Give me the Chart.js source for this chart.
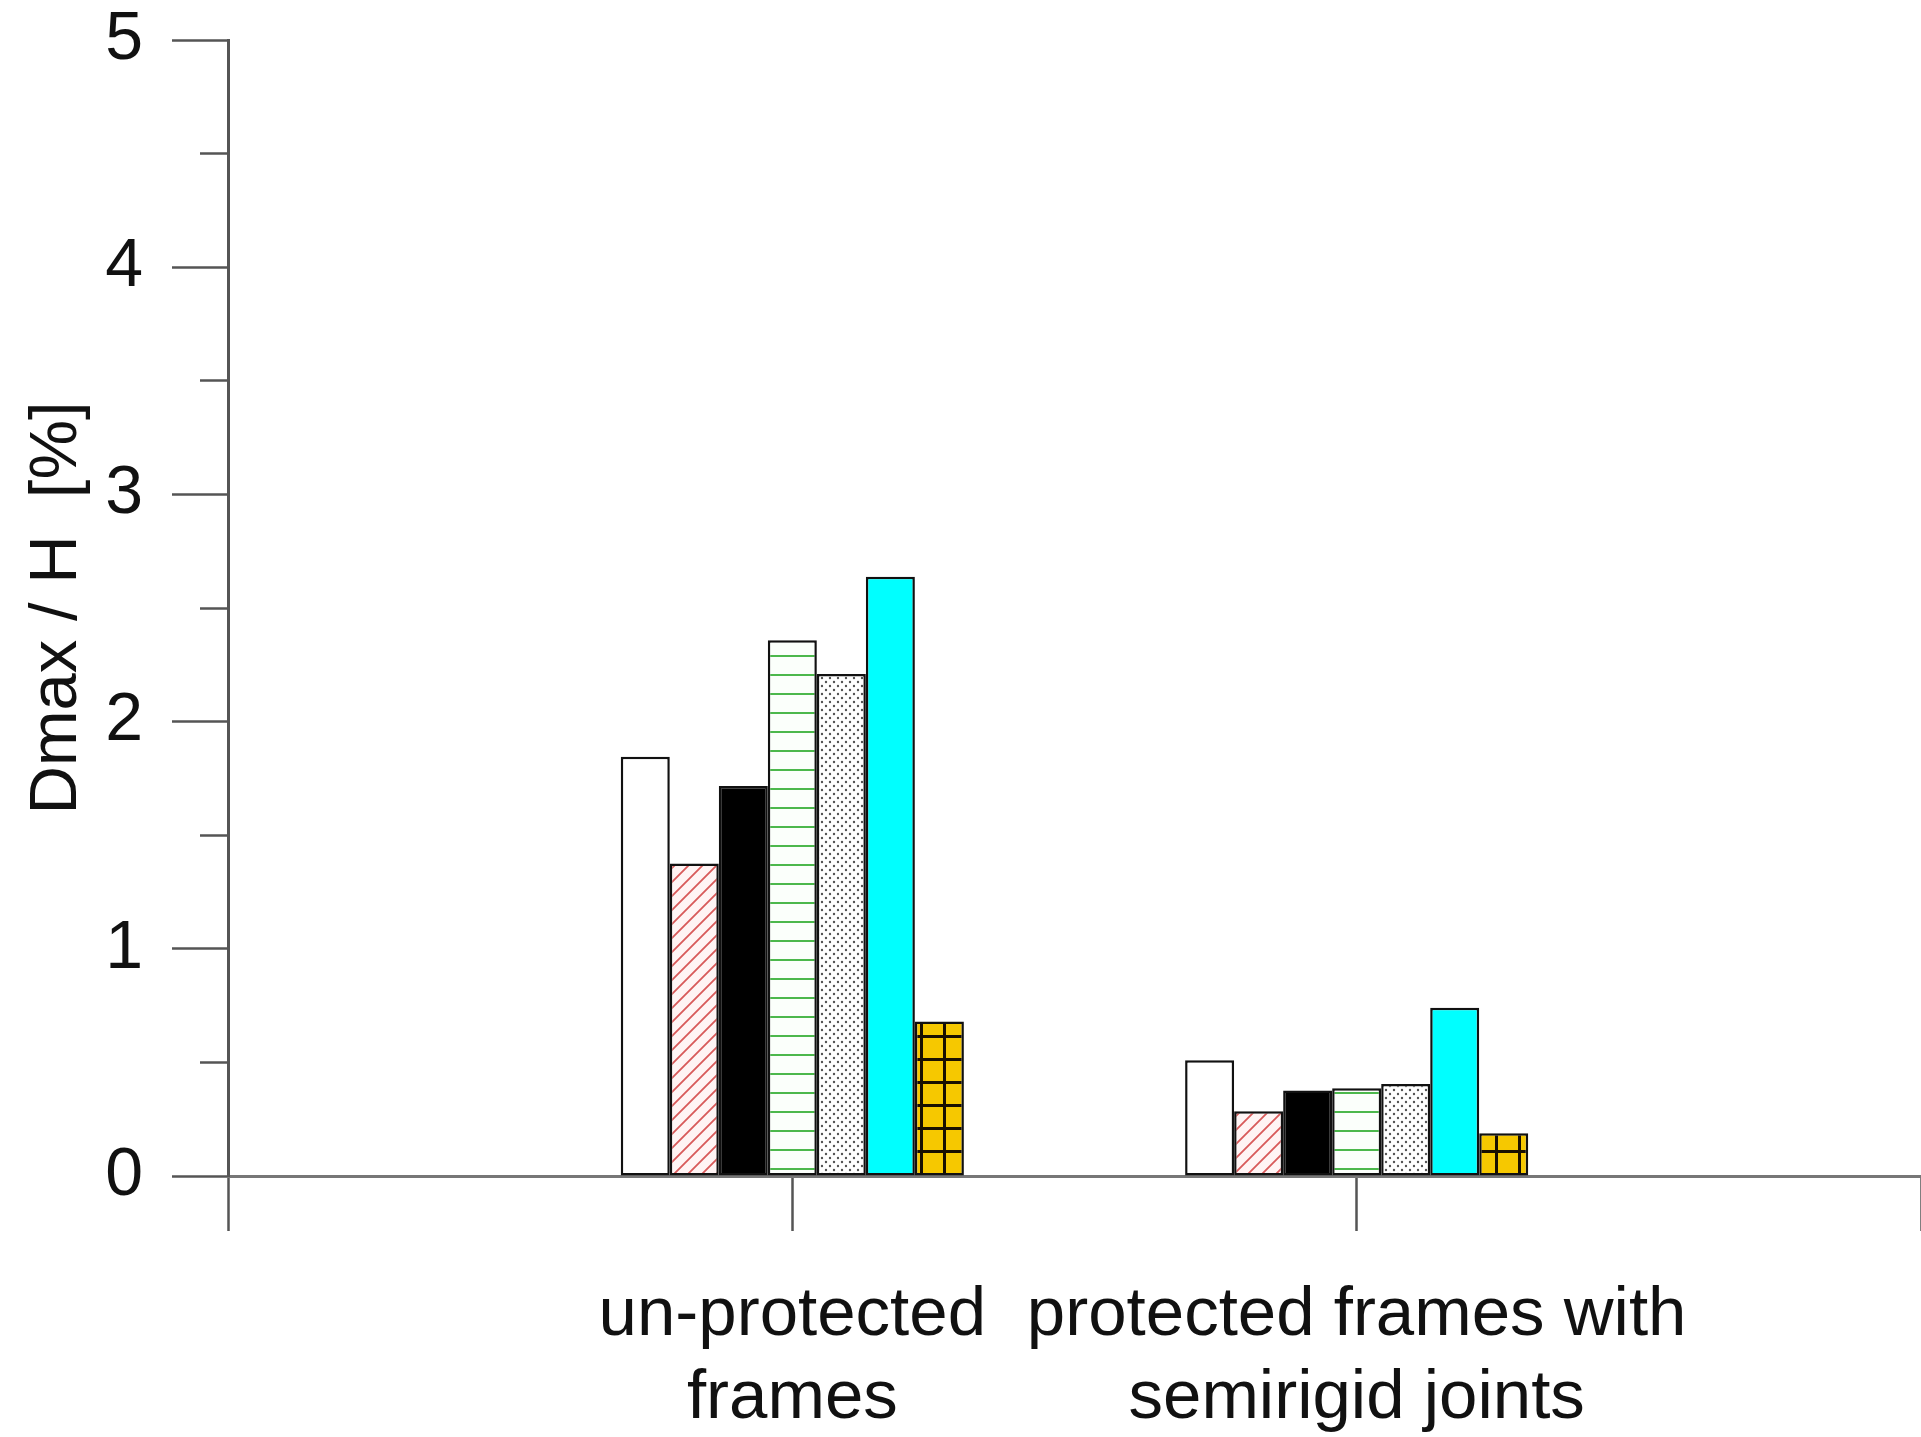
<!DOCTYPE html>
<html>
<head>
<meta charset="utf-8">
<script src="https://cdn.jsdelivr.net/npm/chart.js@4/dist/chart.umd.min.js"></script>
<style>
  html, body { margin: 0; padding: 0; background: #fff; }
  #wrap { width: 1921px; height: 1437px; }
</style>
</head>
<body>
<div id="wrap"><canvas id="chart" width="1921" height="1437"></canvas></div>
<script>
// category slots: empty edge slots so ticks sit at 0..3 like the original
const categories = ['', ['un-protected', 'frames'], ['protected frames with', 'semirigid joints'], ''];

// one series per bar style
const seriesPlain   = [null, 1.845, 0.51, null];
const seriesHatch   = [null, 1.375, 0.285, null];
const seriesBlack   = [null, 1.717, 0.376, null];
const seriesStripes = [null, 2.358, 0.386, null];
const seriesDots    = [null, 2.21, 0.405, null];
const seriesCyan    = [null, 2.637, 0.74, null];
const seriesGrid    = [null, 0.68, 0.188, null];

const yTicks = [0, 1, 2, 3, 4, 5];
const yTitle = 'Dmax / H  [%]';

const FONT = "'Liberation Sans', Arial, sans-serif";

function makePattern(w, h, draw) {
    const c = document.createElement('canvas');
    c.width = w;
    c.height = h;
    const g = c.getContext('2d');
    draw(g, w, h);
    return g.createPattern(c, 'repeat');
}

const hatchRed = makePattern(14, 14, (g, w, h) => {
    g.fillStyle = '#fff4f4';
    g.fillRect(0, 0, w, h);
    g.strokeStyle = '#d85a5a';
    g.lineWidth = 1.8;
    g.beginPath();
    g.moveTo(-2, h + 2); g.lineTo(w + 2, -2);
    g.moveTo(-2, 2); g.lineTo(2, -2);
    g.moveTo(w - 2, h + 2); g.lineTo(w + 2, h - 2);
    g.stroke();
});

const stripesGreen = makePattern(10, 19, (g, w, h) => {
    g.fillStyle = '#fbfffb';
    g.fillRect(0, 0, w, h);
    g.fillStyle = '#4cb84c';
    g.fillRect(0, 9, w, 2);
});

const dotsGrey = makePattern(8, 8, (g, w, h) => {
    g.fillStyle = '#fff';
    g.fillRect(0, 0, w, h);
    g.fillStyle = '#555';
    g.beginPath();
    g.arc(2, 2, 1.2, 0, Math.PI * 2);
    g.arc(6, 6, 1.2, 0, Math.PI * 2);
    g.fill();
});

const gridYellow = makePattern(23, 23, (g, w, h) => {
    g.fillStyle = '#f6c800';
    g.fillRect(0, 0, w, h);
    g.fillStyle = '#1a1000';
    g.fillRect(0, 0, w, 3);
    g.fillRect(0, 0, 3, h);
});

const barStyle = {
    borderColor: '#111',
    borderWidth: 2.5,
    borderSkipped: false,
    barPercentage: 1,
    categoryPercentage: 0.608
};

const datasets = [
    { data: seriesPlain,   backgroundColor: '#fff' },
    { data: seriesHatch,   backgroundColor: hatchRed },
    { data: seriesBlack,   backgroundColor: '#000' },
    { data: seriesStripes, backgroundColor: stripesGreen },
    { data: seriesDots,    backgroundColor: dotsGrey },
    { data: seriesCyan,    backgroundColor: '#00ffff' },
    { data: seriesGrid,    backgroundColor: gridYellow }
].map(d => Object.assign({}, barStyle, d));

new Chart(document.getElementById('chart').getContext('2d'), {
    type: 'bar',
    data: { labels: categories, datasets: datasets },
    options: {
        responsive: false,
        animation: false,
        devicePixelRatio: 1,
        layout: { padding: { top: 40, right: -11, bottom: 0, left: 0 } },
        plugins: { legend: { display: false }, tooltip: { enabled: false } },
        scales: {
            x: {
                type: 'category',
                offset: false,
                grid: {
                    offset: false,
                    drawOnChartArea: false,
                    tickLength: 55,
                    tickColor: '#555',
                    tickWidth: 2.5
                },
                border: { color: '#777', width: 3 },
                ticks: {
                    font: { family: FONT, size: 69 },
                    color: '#111',
                    padding: 44,
                    maxRotation: 0,
                    autoSkip: false
                },
                afterFit: scale => {
                    scale.height = 261;
                    scale.paddingLeft = 0;
                    scale.paddingRight = 0;
                }
            },
            y: {
                min: 0,
                max: 5,
                grid: {
                    drawOnChartArea: false,
                    tickLength: 56,
                    tickColor: '#555',
                    tickWidth: 2.5,
                    // minor ticks: only the inner half is drawn
                    tickBorderDash: ctx => (yTicks.includes(ctx.tick.value) ? [] : [28, 28]),
                    tickBorderDashOffset: ctx => (yTicks.includes(ctx.tick.value) ? 0 : 28)
                },
                border: { color: '#555', width: 3 },
                ticks: {
                    stepSize: 0.5,
                    autoSkip: false,
                    font: { family: FONT, size: 68 },
                    color: '#111',
                    padding: 29,
                    callback: v => (yTicks.includes(v) ? String(v) : '')
                },
                title: {
                    display: true,
                    text: yTitle,
                    font: { family: FONT, size: 67 },
                    color: '#111',
                    padding: { top: 17, bottom: 0 }
                },
                afterFit: scale => {
                    scale.width = 228;
                    scale.paddingTop = 0;
                    scale.paddingBottom = 0;
                }
            }
        }
    }
});
</script>
</body>
</html>
